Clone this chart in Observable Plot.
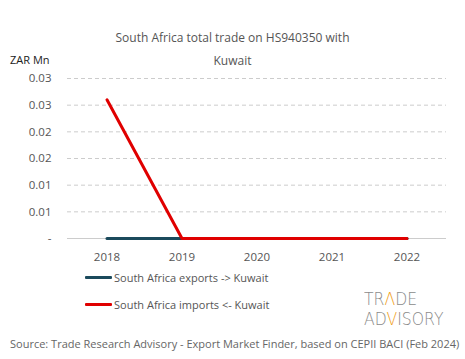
<!DOCTYPE html>
<html>
<head>
<meta charset="utf-8">
<script src="https://cdn.jsdelivr.net/npm/d3@7"></script>
<script src="https://cdn.jsdelivr.net/npm/@observablehq/plot@0.6"></script>
<style>
  body { margin: 0; background: #fff; }
  #wrap { position: relative; width: 465px; height: 359px; overflow: hidden; font-family: "Open Sans", sans-serif; }
  #chart { position: absolute; left: 0; top: 0; }
  .title { position: absolute; left: 0; width: 465px; text-align: center; font-size: 12px; color: #555; }
  .unit { position: absolute; left: 10px; top: 52px; font-size: 11px; color: #222; }
  .leg { position: absolute; left: 85px; font-size: 11px; color: #555; display: flex; align-items: center; }
  .leg span.sw { display: inline-block; width: 27px; height: 3px; margin-right: 2px; border-radius: 1px; }
  .src { position: absolute; left: 10px; top: 336px; font-size: 11px; color: #666; white-space: nowrap; }
  .logo { position: absolute; left: 364px; font-size: 17px; line-height: 20px; height: 20px; font-family: "DejaVu Sans", sans-serif; font-weight: 200; color: #8a8a8a; transform: scaleX(0.92); transform-origin: left top; white-space: nowrap; }
  .logo b { color: #f0a020; font-weight: 200; }
</style>
</head>
<body>
<div id="wrap">
  <div class="title" style="top:29px">South Africa total trade on HS940350 with</div>
  <div class="title" style="top:52px">Kuwait</div>
  <div class="unit">ZAR Mn</div>
  <div id="chart"></div>
  <div class="leg" style="top:270px"><span class="sw" style="background:#1b4a5c"></span>South Africa exports -&gt; Kuwait</div>
  <div class="leg" style="top:297px"><span class="sw" style="background:#e00000"></span>South Africa imports &lt;- Kuwait</div>
  <div class="logo" style="top:289px">TR<b>Λ</b>DE</div>
  <div class="logo" style="top:309px">AD<b>V</b>ISORY</div>
  <div class="src">Source: Trade Research Advisory - Export Market Finder, based on CEPII BACI (Feb 2024)</div>
</div>
<script>
const years = ["2018", "2019", "2020", "2021", "2022"];
const exportsZAR = [0, 0, 0, 0, 0];
const importsZAR = [0.026, 0, 0, 0, 0];
const yTicks = [0, 0.005, 0.01, 0.015, 0.02, 0.025, 0.03];
const yTickLabels = ["-", "0.01", "0.01", "0.02", "0.02", "0.03", "0.03"];

const exp = years.map((y, i) => ({year: y, value: exportsZAR[i]}));
const imp = years.map((y, i) => ({year: y, value: importsZAR[i]}));

const chart = Plot.plot({
  width: 465,
  height: 270,
  marginTop: 78,
  marginBottom: 32,
  marginLeft: 67,
  marginRight: 19,
  style: {fontFamily: "Open Sans, sans-serif", fontSize: "11.5px", color: "#555", background: "transparent"},
  x: {type: "band", domain: years, label: null, tickSize: 0, tickPadding: 14, padding: 0},
  y: {domain: [0, 0.03], label: null, ticks: yTicks, tickSize: 0, tickPadding: 16,
      tickFormat: d => yTickLabels[yTicks.indexOf(d)]},
  marks: [
    Plot.ruleY(yTicks.filter(d => d > 0), {stroke: "#ccc", strokeDasharray: "4,3", strokeWidth: 1}),
    Plot.ruleY([0], {stroke: "#ccc", strokeWidth: 1}),
    Plot.line(exp, {x: "year", y: "value", stroke: "#1b4a5c", strokeWidth: 3}),
    Plot.line(imp, {x: "year", y: "value", stroke: "#e00000", strokeWidth: 3})
  ]
});
document.getElementById("chart").appendChild(chart);
</script>
</body>
</html>
